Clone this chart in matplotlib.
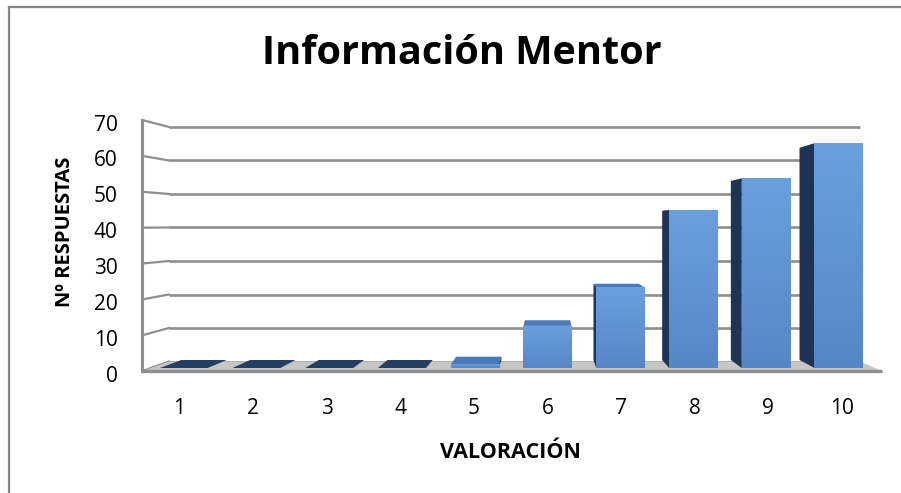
import matplotlib
matplotlib.use("Agg")
import matplotlib.pyplot as plt
from matplotlib.patches import Polygon
from matplotlib.lines import Line2D
from matplotlib.colors import LinearSegmentedColormap
import matplotlib.transforms as mtransforms
import numpy as np

# data
categories = [1, 2, 3, 4, 5, 6, 7, 8, 9, 10]
respuestas = [0, 0, 0, 0, 1, 12, 23, 45, 54, 64]
y_ticks = [0, 10, 20, 30, 40, 50, 60, 70]

title = "Información Mentor"
x_label = "VALORACIÓN"
y_label = "Nº RESPUESTAS"

plt.rcParams['font.family'] = ['Open Sans', 'DejaVu Sans']

W, H = 901, 493
fig = plt.figure(figsize=(W / 100, H / 100), dpi=100)
ax = fig.add_axes([0, 0, 1, 1])

# layout of the bar front plane (pixels)
X6 = 547.5   # pixel of category 6
DX = 72.75   # pixels per category
Y0 = 368.0   # pixel of value 0
DY = 3.51    # pixels per unit
xlim = (6 - X6 / DX, 6 + (W - X6) / DX)
ylim = ((Y0 - H) / DY, Y0 / DY)

# fake perspective: vanishing point and depth factors
VX = 6 + (547 - X6) / DX
VY = (Y0 - 225) / DY
F_FRONT = 1.0215
F_LABEL = 1.012
F_BACK = 0.944
F_WALL = 0.955
XL, XR = 0.55, 10.5
BAR_W = 0.66


def proj(x, y, f):
    return VX + f * (x - VX), VY + f * (y - VY)


grid_c = '#8e8e8e'
# back wall grid
for v in y_ticks:
    x1, y1 = proj(XL, v, F_WALL)
    x2, y2 = proj(XR, v, F_WALL)
    ax.plot([x1, x2], [y1, y2], color=grid_c, lw=1.9, solid_capstyle='butt', zorder=1)
    x0, y0 = proj(XL, v, F_FRONT)
    ax.plot([x0, x1], [y0, y1], color=grid_c, lw=1.6, zorder=1)

# front value axis
xa, ya0 = proj(XL, 0, F_FRONT)
_, ya1 = proj(XL, y_ticks[-1], F_FRONT)
ax.plot([xa, xa], [ya0, ya1], color=grid_c, lw=2.2, zorder=5)

# floor
floor = [proj(XL, 0, F_FRONT), proj(XR, 0, F_FRONT), proj(XR, 0, F_WALL), proj(XL, 0, F_WALL)]
ax.add_patch(Polygon(floor, closed=True, facecolor='#c6c6c6', edgecolor='none', zorder=2))
fx0, fy0 = proj(XL, 0, F_FRONT)
fx1, fy1 = proj(XR, 0, F_FRONT)
ax.plot([fx0, fx1], [fy0, fy1], color=grid_c, lw=2.4, solid_capstyle='butt', zorder=5)

# bars
bars = ax.bar(categories, respuestas, width=BAR_W, color='none', edgecolor='none', zorder=4)
grad = LinearSegmentedColormap.from_list('bar', ['#5786c6', '#6a9fdd'])
for rect, v in zip(bars.patches, respuestas):
    xl = rect.get_x()
    xr = xl + rect.get_width()
    # top face
    top = [proj(xl, v, 1), proj(xr, v, 1), proj(xr, v, F_BACK), proj(xl, v, F_BACK)]
    top_c = '#243f62' if v == 0 else '#4a7aba'
    ax.add_patch(Polygon(top, closed=True, facecolor=top_c, edgecolor='none', zorder=3))
    # visible side face
    if xl > VX:
        side = [(xl, 0), (xl, v), proj(xl, v, F_BACK), proj(xl, 0, F_BACK)]
        ax.add_patch(Polygon(side, closed=True, facecolor='#1f3453', edgecolor='none', zorder=3))
    elif xr < VX:
        side = [(xr, 0), (xr, v), proj(xr, v, F_BACK), proj(xr, 0, F_BACK)]
        ax.add_patch(Polygon(side, closed=True, facecolor='#1f3453', edgecolor='none', zorder=3))
    # front face with gradient
    if v > 0:
        im = ax.imshow(np.linspace(0, 1, 64).reshape(-1, 1), cmap=grad, origin='lower',
                       extent=(xl, xr, 0, v), aspect='auto', zorder=4)
        im.set_clip_path(rect)

ax.set_xlim(*xlim)
ax.set_ylim(*ylim)
ax.axis('off')

# tick labels
px = 1 / 100
for v in y_ticks:
    x, y = proj(XL, v, F_FRONT)
    tr = ax.transData + mtransforms.ScaledTranslation(-25 * px, -5 * px, fig.dpi_scale_trans)
    ax.text(x, y, str(v), transform=tr, ha='right', va='center', fontsize=15, color='#000000')
for c in categories:
    x, _ = proj(c, 0, F_LABEL)
    ax.text(x, (Y0 - 408) / DY, str(c), ha='center', va='center', fontsize=15, color='#000000')

fig.text(462 / W, 1 - 53 / H, title, ha='center', va='center', fontsize=28.5, fontweight='bold')
fig.text(510 / W, 1 - 452 / H, x_label, ha='center', va='center', fontsize=15.5, fontweight='bold')
fig.text(65 / W, 1 - 232 / H, y_label, ha='center', va='center', rotation=90,
         fontsize=14.5, fontweight='bold')

# chart area border (only top and left are inside the picture)
fig.add_artist(Line2D([9 / W, 1], [1 - 7 / H, 1 - 7 / H], color='#868686', lw=1.6))
fig.add_artist(Line2D([9 / W, 9 / W], [0, 1 - 7 / H], color='#868686', lw=1.6))

fig.savefig('out.png', dpi=100)
